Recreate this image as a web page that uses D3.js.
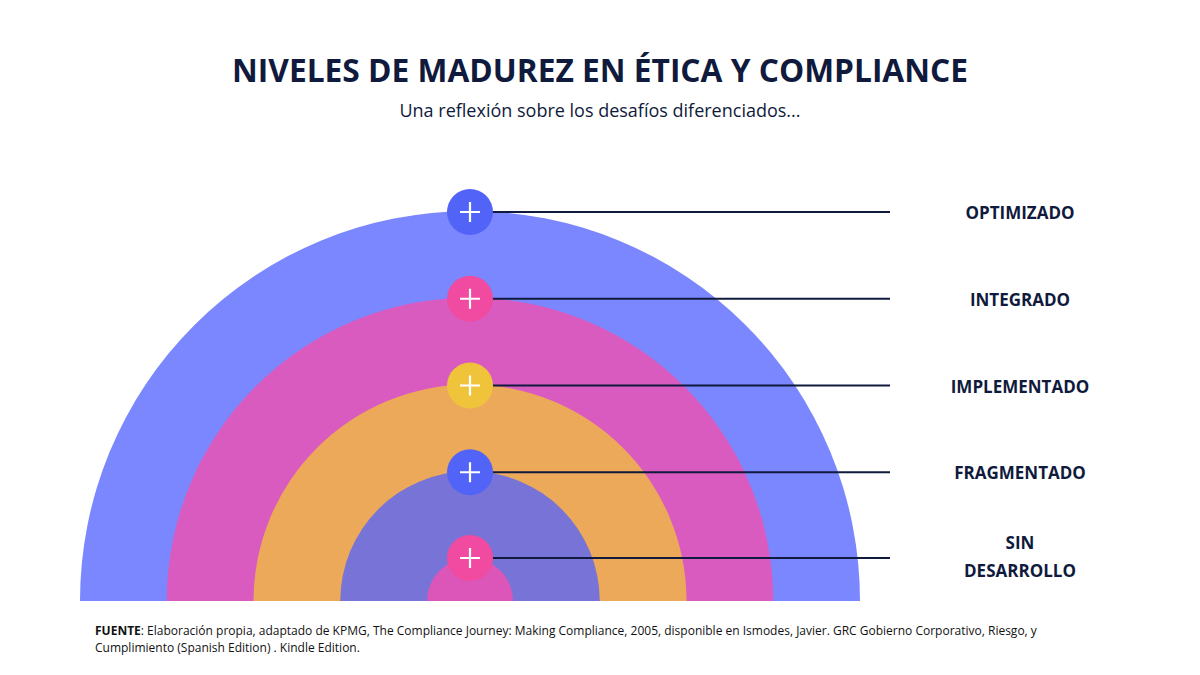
<!DOCTYPE html>
<html><head><meta charset="utf-8">
<script src="https://cdn.jsdelivr.net/npm/d3@7"></script>
<style>body{margin:0;background:#fff}svg{display:block}</style>
</head><body>
<script>
const levels = ["SIN DESARROLLO","FRAGMENTADO","IMPLEMENTADO","INTEGRADO","OPTIMIZADO"];
const levelIndex = [0,1,2,3,4];
const arcColors = ["#dc56b9","#7873d6","#eda95a","#d95bbf","#7b87fe"];
const markerColors = ["#f04ba0","#5263f7","#f0c43a","#f04ba0","#5263f7"];
const W=1200,H=675,cx=470,base=601;
const svg=d3.select("body").append("svg").attr("width",W).attr("height",H);
const font="'Open Sans', sans-serif", navy="#0f1a3c";
const r=d3.scaleLinear().domain([0,4]).range([43,390]);
svg.append("text").attr("x",600).attr("y",82).attr("text-anchor","middle")
 .attr("font-family",font).attr("font-weight",700).attr("font-size",33).attr("fill",navy)
 .attr("textLength",736).attr("lengthAdjust","spacingAndGlyphs")
 .text("NIVELES DE MADUREZ EN ÉTICA Y COMPLIANCE");
svg.append("text").attr("x",600).attr("y",117).attr("text-anchor","middle")
 .attr("font-family",font).attr("font-size",18).attr("fill",navy)
 .text("Una reflexión sobre los desafíos diferenciados...");
const arc=d3.arc().innerRadius(0).startAngle(-Math.PI/2).endAngle(Math.PI/2);
const g=svg.append("g").attr("transform",`translate(${cx},${base})`);
[...levelIndex].reverse().forEach(i=>{
 g.append("path").attr("d",arc({outerRadius:r(i)})).attr("fill",arcColors[i]);
});
levelIndex.forEach(i=>{
 const y=base-r(i)+ (i===0?-0:1);
 const my = i===0? 558 : base-r(i)+1;
 svg.append("line").attr("x1",cx).attr("x2",890).attr("y1",my).attr("y2",my).attr("stroke","#0f1a3c").attr("stroke-width",2);
 svg.append("circle").attr("cx",cx).attr("cy",my).attr("r",23).attr("fill",markerColors[i]);
 svg.append("path").attr("d",`M${cx-10},${my}H${cx+10}M${cx},${my-10}V${my+10}`).attr("stroke","#fff").attr("stroke-width",2.2);
 const t=svg.append("text").attr("x",1020).attr("text-anchor","middle").attr("font-family",font)
  .attr("font-weight",700).attr("font-size",17).attr("fill",navy);
 if(i===0){
  t.append("tspan").attr("x",1020).attr("y",549).text("SIN");
  t.append("tspan").attr("x",1020).attr("y",577).text("DESARROLLO");
 } else t.attr("y",my+7).text(levels[i]);
});
const f=svg.append("text").attr("font-family",font).attr("font-size",12).attr("fill","#111");
const l1=f.append("tspan").attr("x",95).attr("y",635);
l1.append("tspan").attr("font-weight",700).text("FUENTE");
l1.append("tspan").text(": Elaboración propia, adaptado de KPMG, The Compliance Journey: Making Compliance, 2005, disponible en Ismodes, Javier. GRC Gobierno Corporativo, Riesgo, y");
f.append("tspan").attr("x",95).attr("y",652).text("Cumplimiento (Spanish Edition) . Kindle Edition.");
</script>
</body></html>
